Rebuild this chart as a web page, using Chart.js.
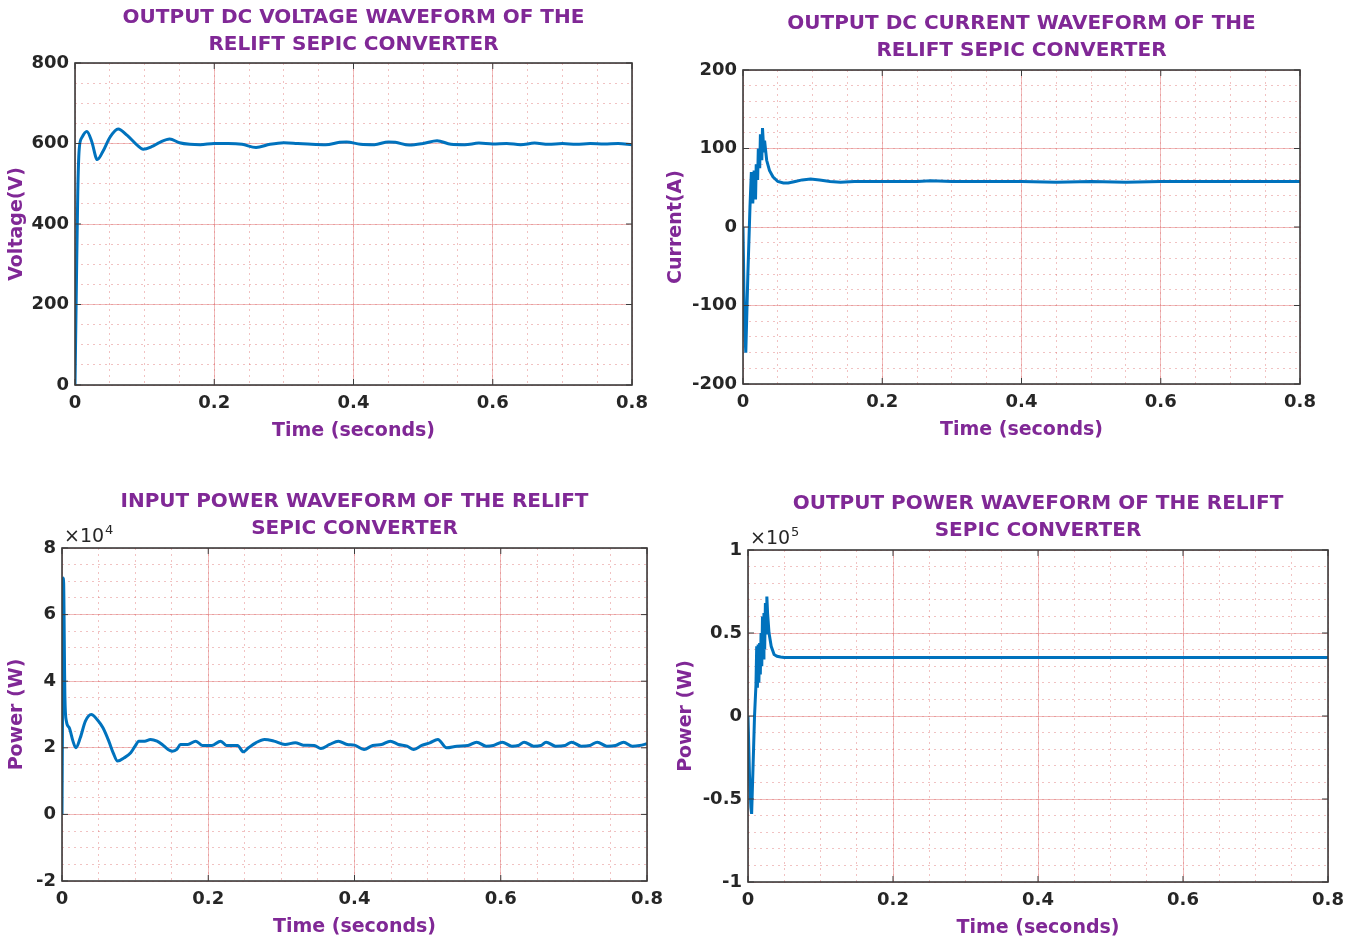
<!DOCTYPE html>
<html><head><meta charset="utf-8">
<script src="https://cdn.jsdelivr.net/npm/chart.js@4.4.1/dist/chart.umd.min.js"></script>
<style>
html,body{margin:0;padding:0;background:#fff;width:1363px;height:943px;overflow:hidden;position:relative}
canvas{position:absolute;display:block}
</style></head><body>
<canvas id="c1" width="660" height="445" style="left:0px;top:0px"></canvas>
<canvas id="c2" width="671" height="444" style="left:659px;top:0px"></canvas>
<canvas id="c3" width="677" height="461" style="left:0px;top:480px"></canvas>
<canvas id="c4" width="689" height="462" style="left:669px;top:480px"></canvas>
<script>
// ---------- data ----------
const xMajorTicks = [0, 0.2, 0.4, 0.6, 0.8];
const xMinorTicks = [0,0.05,0.1,0.15,0.2,0.25,0.3,0.35,0.4,0.45,0.5,0.55,0.6,0.65,0.7,0.75,0.8];

const voltYTicks = [0, 200, 400, 600, 800];
const voltYMinor = [0,50,100,150,200,250,300,350,400,450,500,550,600,650,700,750,800];
const voltTime = [0,0.002,0.004,0.006,0.01,0.017,0.024,0.032,0.04,0.05,0.062,0.075,0.088,0.098,0.11,0.122,0.136,0.15,0.165,0.18,0.2,0.22,0.24,0.26,0.28,0.3,0.32,0.34,0.36,0.38,0.39,0.41,0.43,0.45,0.46,0.48,0.5,0.52,0.54,0.56,0.58,0.6,0.62,0.64,0.66,0.68,0.7,0.72,0.74,0.76,0.78,0.8];
const voltValues = [0,250,480,585,615,630,605,560,580,615,636,620,598,586,592,603,611,602,598,597,600,600,598,590,598,602,600,598,597,603,604,598,597,604,603,596,600,607,598,597,601,599,600,597,601,598,600,598,600,599,600,597];

const currYTicks = [-200, -100, 0, 100, 200];
const currYMinor = [-200,-180,-160,-140,-120,-100,-80,-60,-40,-20,0,20,40,60,80,100,120,140,160,180,200];
const currTime = [0,0.002,0.004,0.007,0.010,0.012,0.014,0.016,0.018,0.019,0.021,0.022,0.024,0.025,0.027,0.028,0.030,0.031,0.034,0.038,0.043,0.05,0.058,0.065,0.075,0.085,0.097,0.11,0.125,0.14,0.16,0.2,0.25,0.27,0.3,0.35,0.4,0.45,0.5,0.55,0.6,0.65,0.7,0.75,0.8];
const currValues = [0,-120,-160,-60,25,70,30,72,35,80,60,100,75,118,85,126,95,110,85,72,64,58,56,56,58,60,61,60,58,57,58,58,58,59,58,58,58,57,58,57,58,58,58,58,58];

// input power, in units of x10^4 W
const pinYTicks = [-2, 0, 2, 4, 6, 8];
const pinYMinor = [-2,-1.5,-1,-0.5,0,0.5,1,1.5,2,2.5,3,3.5,4,4.5,5,5.5,6,6.5,7,7.5,8];
const pinTime = [0,0.001,0.002,0.004,0.006,0.01,0.015,0.019,0.025,0.032,0.04,0.048,0.056,0.064,0.07,0.076,0.085,0.094,0.1,0.105,0.113,0.121,0.13,0.137,0.145,0.151,0.157,0.162,0.172,0.183,0.192,0.205,0.217,0.225,0.24,0.248,0.255,0.265,0.277,0.29,0.305,0.319,0.33,0.345,0.354,0.366,0.378,0.39,0.4,0.413,0.425,0.437,0.449,0.46,0.472,0.481,0.492,0.503,0.514,0.526,0.54,0.555,0.567,0.58,0.59,0.602,0.615,0.624,0.632,0.645,0.655,0.662,0.675,0.688,0.697,0.71,0.722,0.732,0.745,0.757,0.768,0.78,0.79,0.8];
const pinValues = [0,4.0,7.1,3.5,2.8,2.6,2.2,2.0,2.3,2.8,3.0,2.85,2.6,2.2,1.85,1.6,1.7,1.85,2.05,2.2,2.2,2.25,2.2,2.1,1.95,1.9,1.95,2.1,2.1,2.2,2.07,2.07,2.2,2.07,2.07,1.88,2.0,2.15,2.25,2.2,2.1,2.15,2.08,2.07,1.98,2.1,2.2,2.1,2.08,1.95,2.07,2.1,2.2,2.1,2.05,1.95,2.07,2.15,2.25,2.0,2.05,2.07,2.17,2.05,2.07,2.17,2.05,2.07,2.17,2.05,2.07,2.17,2.05,2.07,2.17,2.05,2.07,2.17,2.05,2.07,2.17,2.05,2.07,2.12];

// output power, in units of x10^5 W
const poutYTicks = [-1, -0.5, 0, 0.5, 1];
const poutYMinor = [-1,-0.9,-0.8,-0.7,-0.6,-0.5,-0.4,-0.3,-0.2,-0.1,0,0.1,0.2,0.3,0.4,0.5,0.6,0.7,0.8,0.9,1];
const poutTime = [0,0.002,0.004,0.005,0.007,0.009,0.011,0.012,0.013,0.014,0.015,0.016,0.017,0.018,0.019,0.020,0.021,0.022,0.023,0.024,0.025,0.026,0.027,0.029,0.032,0.036,0.04,0.045,0.05,0.1,0.2,0.3,0.4,0.5,0.6,0.7,0.8];
const poutValues = [0,-0.35,-0.55,-0.59,-0.3,0.0,0.19,0.42,0.17,0.43,0.2,0.44,0.25,0.5,0.3,0.6,0.35,0.62,0.4,0.68,0.5,0.72,0.62,0.5,0.42,0.37,0.36,0.355,0.352,0.352,0.352,0.352,0.352,0.352,0.352,0.352,0.352];

// ---------- styling ----------
const FONT = "'DejaVu Sans', Verdana, sans-serif";
const PURPLE = 'rgb(128,40,150)';
const TICKC = '#262626';
const MAJOR = 'rgba(225,120,120,0.5)';
const MINOR = 'rgba(225,120,120,0.45)';
const LINE = '#0072BD';

const frame = {
  id: 'frame',
  afterDraw(chart, args, opts) {
    const {ctx, chartArea: a, scales} = chart;
    ctx.save();
    ctx.strokeStyle = '#3c3c3c';
    ctx.lineWidth = 1;
    const seg = (x1, y1, x2, y2) => { ctx.beginPath(); ctx.moveTo(x1, y1); ctx.lineTo(x2, y2); ctx.stroke(); };
    scales.x.ticks.forEach(t => {
      const p = scales.x.getPixelForValue(t.value);
      seg(p, a.bottom, p, a.bottom - 6); seg(p, a.top, p, a.top + 6);
    });
    scales.y.ticks.forEach(t => {
      const p = scales.y.getPixelForValue(t.value);
      seg(a.left, p, a.left + 6, p); seg(a.right, p, a.right - 6, p);
    });
    ctx.lineWidth = 1.6;
    ctx.strokeRect(a.left, a.top, a.right - a.left, a.bottom - a.top);
    if (opts && opts.exp) {
      ctx.fillStyle = TICKC;
      ctx.textBaseline = 'alphabetic';
      ctx.font = '19px ' + FONT;
      const base = '\u00d710';
      ctx.fillText(base, a.left + 2, a.top - 6);
      const w = ctx.measureText(base).width;
      ctx.font = '13px ' + FONT;
      ctx.fillText(opts.exp, a.left + 3 + w, a.top - 14);
    }
    ctx.restore();
  }
};

function setTicks(arr) { return s => { s.ticks = arr.map(v => ({value: v})); }; }

function build(id, o) {
  const data = o.t.map((t, i) => ({x: t, y: o.v[i]}));
  new Chart(document.getElementById(id), {
    type: 'line',
    data: {datasets: [{data, borderColor: LINE, borderWidth: 3, pointRadius: 0,
      cubicInterpolationMode: o.smooth ? 'monotone' : 'default', tension: 0, fill: false}]},
    options: {
      responsive: false, animation: false, events: [],
      layout: {padding: {left: 0, right: o.padRight, top: 0, bottom: 0}},
      plugins: {
        legend: {display: false}, tooltip: {enabled: false},
        title: {display: true, text: o.title, color: PURPLE, fullSize: false,
          font: {family: FONT, size: 20, weight: 'bold', lineHeight: 1.35},
          padding: {top: o.tp, bottom: o.tb}},
        frame: {exp: o.exp}
      },
      scales: {
        x: {type: 'linear', position: 'bottom', min: 0, max: 0.8,
          afterBuildTicks: setTicks(xMajorTicks), afterFit: s => { s.height = 60; },
          grid: {color: MAJOR, lineWidth: 1, drawTicks: false}, border: {display: false},
          ticks: {color: TICKC, font: {family: FONT, size: 18, weight: 'bold'}, padding: 8,
            maxRotation: 0, autoSkip: false, callback: v => String(v)},
          title: {display: true, text: 'Time (seconds)', color: PURPLE,
            font: {family: FONT, size: 19, weight: 'bold', lineHeight: 1.2}, padding: {top: 0, bottom: 3}}},
        xm: {type: 'linear', position: 'bottom', min: 0, max: 0.8,
          afterBuildTicks: setTicks(xMinorTicks), afterFit: s => { s.height = 0; },
          grid: {color: MINOR, lineWidth: 1, drawTicks: false}, border: {display: false, dash: [2, 4]},
          ticks: {display: false}},
        y: {type: 'linear', position: 'left', min: o.yMin, max: o.yMax,
          afterBuildTicks: setTicks(o.yTicks), afterFit: s => { s.width = o.yw; },
          grid: {color: MAJOR, lineWidth: 1, drawTicks: false}, border: {display: false},
          ticks: {color: TICKC, font: {family: FONT, size: 18, weight: 'bold'}, padding: 6,
            autoSkip: false, callback: v => String(v)},
          title: {display: true, text: o.yTitle, color: PURPLE,
            font: {family: FONT, size: 19, weight: 'bold', lineHeight: 1.2}, padding: {top: 6, bottom: 0}}},
        ym: {type: 'linear', position: 'left', min: o.yMin, max: o.yMax,
          afterBuildTicks: setTicks(o.yMinor), afterFit: s => { s.width = 0; },
          grid: {color: MINOR, lineWidth: 1, drawTicks: false}, border: {display: false, dash: [2, 4]},
          ticks: {display: false}}
      }
    },
    plugins: [frame]
  });
}

build('c1', {t: voltTime, v: voltValues, yMin: 0, yMax: 800, yTicks: voltYTicks, yMinor: voltYMinor,
  title: ['OUTPUT DC VOLTAGE WAVEFORM OF THE', 'RELIFT SEPIC CONVERTER'], yTitle: 'Voltage(V)',
  yw: 75, padRight: 28, tp: 4, tb: 5, smooth: true});
build('c2', {t: currTime, v: currValues, yMin: -200, yMax: 200, yTicks: currYTicks, yMinor: currYMinor,
  title: ['OUTPUT DC CURRENT WAVEFORM OF THE', 'RELIFT SEPIC CONVERTER'], yTitle: 'Current(A)',
  yw: 84, padRight: 30, tp: 10, tb: 6, smooth: false});
build('c3', {t: pinTime, v: pinValues, yMin: -2, yMax: 8, yTicks: pinYTicks, yMinor: pinYMinor,
  title: ['INPUT POWER WAVEFORM OF THE RELIFT', 'SEPIC CONVERTER'], yTitle: 'Power (W)',
  yw: 62, padRight: 30, tp: 8, tb: 6, smooth: true, exp: '4'});
build('c4', {t: poutTime, v: poutValues, yMin: -1, yMax: 1, yTicks: poutYTicks, yMinor: poutYMinor,
  title: ['OUTPUT POWER WAVEFORM OF THE RELIFT', 'SEPIC CONVERTER'], yTitle: 'Power (W)',
  yw: 79, padRight: 30, tp: 10, tb: 6, smooth: false, exp: '5'});
</script>
</body></html>
